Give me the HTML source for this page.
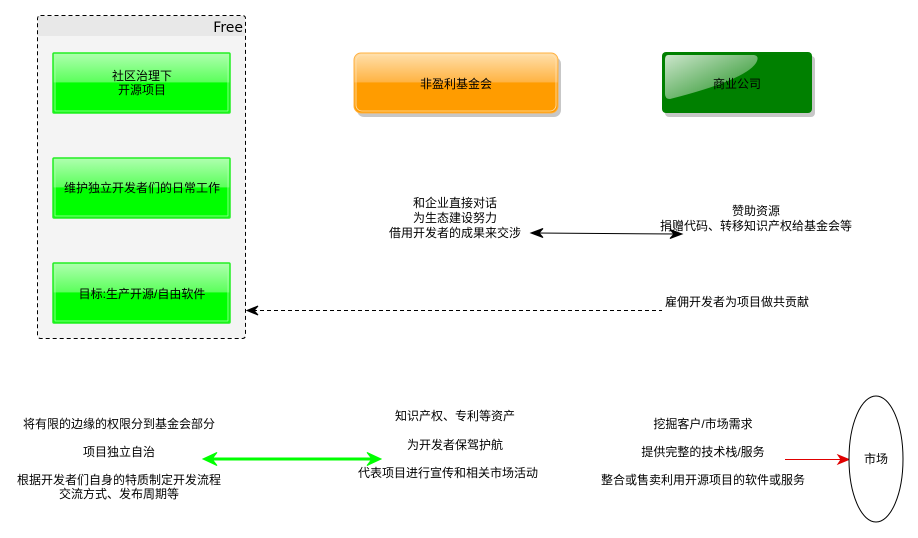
<!DOCTYPE html>
<html><head><meta charset="utf-8"><style>
html,body{margin:0;padding:0;background:#fff;}
svg{display:block;}
text{font-family:"Liberation Sans","WenQuanYi Zen Hei","Noto Sans CJK SC",sans-serif;font-size:12px;fill:#000;}
</style></head><body>
<svg width="918" height="538" viewBox="0 0 918 538" xmlns="http://www.w3.org/2000/svg">
<defs>
<linearGradient id="gg" x1="0" y1="0" x2="0" y2="1">
<stop offset="0" stop-color="#b0ffb0"/><stop offset="0.48" stop-color="#5cff5c"/><stop offset="0.5" stop-color="#00ff00"/><stop offset="1" stop-color="#00ff00"/>
</linearGradient>
<linearGradient id="og" x1="0" y1="0" x2="0" y2="1">
<stop offset="0" stop-color="#ffe0ac"/><stop offset="0.48" stop-color="#ffb444"/><stop offset="0.5" stop-color="#ff9c00"/><stop offset="1" stop-color="#ff9c00"/>
</linearGradient>
<linearGradient id="dg" x1="0" y1="0" x2="1" y2="1">
<stop offset="0" stop-color="#ffffff" stop-opacity="0.8"/><stop offset="1" stop-color="#ffffff" stop-opacity="0.1"/>
</linearGradient>
</defs>

<!-- Free container -->
<rect x="37.5" y="15.5" width="208" height="323" rx="3" fill="#f4f4f4"/>
<rect x="38" y="16" width="207" height="20" fill="#e8e8e8"/>
<rect x="37.5" y="15.5" width="208" height="323" rx="3" fill="none" stroke="#000" stroke-dasharray="4,3"/>
<text x="243" y="32" text-anchor="end" style="font-size:14px;font-family:'DejaVu Sans',sans-serif">Free</text>

<!-- green boxes -->
<g>
<rect x="53" y="53" width="177" height="60" rx="1" fill="url(#gg)" stroke="#22ee22" stroke-width="1.5"/>
<rect x="55" y="55" width="173" height="56" fill="none" stroke="#a8ffa8" stroke-width="0.8"/>
<text x="142" y="80" text-anchor="middle">社区治理下</text>
<text x="142" y="94" text-anchor="middle">开源项目</text>
</g>
<g>
<rect x="53" y="158" width="177" height="60" rx="1" fill="url(#gg)" stroke="#22ee22" stroke-width="1.5"/>
<rect x="55" y="160" width="173" height="56" fill="none" stroke="#a8ffa8" stroke-width="0.8"/>
<text x="142" y="192" text-anchor="middle">维护独立开发者们的日常工作</text>
</g>
<g>
<rect x="53" y="263" width="177" height="60" rx="1" fill="url(#gg)" stroke="#22ee22" stroke-width="1.5"/>
<rect x="55" y="265" width="173" height="56" fill="none" stroke="#a8ffa8" stroke-width="0.8"/>
<text x="142" y="298" text-anchor="middle">目标:生产开源/自由软件</text>
</g>

<!-- orange box -->
<rect x="357" y="57" width="204" height="60" rx="7" fill="#000" opacity="0.22"/>
<rect x="354" y="53" width="204" height="60" rx="7" fill="url(#og)" stroke="#ffb040" stroke-width="1"/>
<rect x="356" y="55" width="200" height="56" rx="6" fill="none" stroke="#ffe0b0" stroke-width="0.8"/>
<text x="456" y="88" text-anchor="middle">非盈利基金会</text>

<!-- dark green box -->
<rect x="665" y="56" width="150" height="61" rx="4" fill="#000" opacity="0.22"/>
<rect x="662" y="52" width="150" height="61" rx="4" fill="#008000"/>
<path d="M668,55 L754,55 Q760,56 756,63 Q745,80 670,99 Q665,99 665,94 L665,60 Q665,55 668,55 Z" fill="url(#dg)"/>
<text x="737" y="88" text-anchor="middle">商业公司</text>

<!-- middle texts -->
<text x="455" y="207" text-anchor="middle">和企业直接对话</text>
<text x="455" y="222" text-anchor="middle">为生态建设努力</text>
<text x="455" y="237" text-anchor="middle">借用开发者的成果来交涉</text>
<text x="756" y="215" text-anchor="middle">赞助资源</text>
<text x="756" y="230" text-anchor="middle">捐赠代码、转移知识产权给基金会等</text>

<!-- black double arrow -->
<line x1="536" y1="233" x2="677" y2="234" stroke="#000" stroke-width="1"/>
<path d="M531,233 L543,228.5 L539,233 L543,237.5 Z" fill="#000" stroke="#000"/>
<path d="M682,234 L670,229.5 L674,234 L670,238.5 Z" fill="#000" stroke="#000"/>

<!-- dashed arrow -->
<line x1="253" y1="310.5" x2="662" y2="310.5" stroke="#000" stroke-dasharray="4,3"/>
<path d="M247,310.5 L258,306 L254,310.5 L258,315 Z" fill="#000" stroke="#000"/>
<text x="665" y="306">雇佣开发者为项目做共贡献</text>

<!-- bottom left -->
<text x="119" y="428" text-anchor="middle">将有限的边缘的权限分到基金会部分</text>
<text x="119" y="456" text-anchor="middle">项目独立自治</text>
<text x="119" y="484" text-anchor="middle">根据开发者们自身的特质制定开发流程</text>
<text x="119" y="498" text-anchor="middle">交流方式、发布周期等</text>

<!-- green double arrow -->
<line x1="212" y1="459" x2="372" y2="459" stroke="#00ff00" stroke-width="3"/>
<path d="M203,459 L217,452.5 L212,459 L217,465.5 Z" fill="#00ff00" stroke="#00ff00"/>
<path d="M381,459 L367,452.5 L372,459 L367,465.5 Z" fill="#00ff00" stroke="#00ff00"/>

<!-- bottom middle -->
<text x="455" y="420" text-anchor="middle">知识产权、专利等资产</text>
<text x="455" y="449" text-anchor="middle">为开发者保驾护航</text>
<text x="448" y="477" text-anchor="middle">代表项目进行宣传和相关市场活动</text>

<!-- bottom right -->
<text x="703" y="428" text-anchor="middle">挖掘客户/市场需求</text>
<text x="703" y="456" text-anchor="middle">提供完整的技术栈/服务</text>
<text x="703" y="484" text-anchor="middle">整合或售卖利用开源项目的软件或服务</text>

<!-- red arrow -->
<line x1="785" y1="459.5" x2="843" y2="459.5" stroke="#e00000" stroke-width="1"/>
<path d="M849,459.5 L838,455 L841,459.5 L838,464 Z" fill="#e00000" stroke="#e00000"/>

<!-- ellipse -->
<ellipse cx="876" cy="459" rx="27" ry="63" fill="#fff" stroke="#000" stroke-width="1"/>
<text x="876" y="463" text-anchor="middle">市场</text>
</svg>
</body></html>
